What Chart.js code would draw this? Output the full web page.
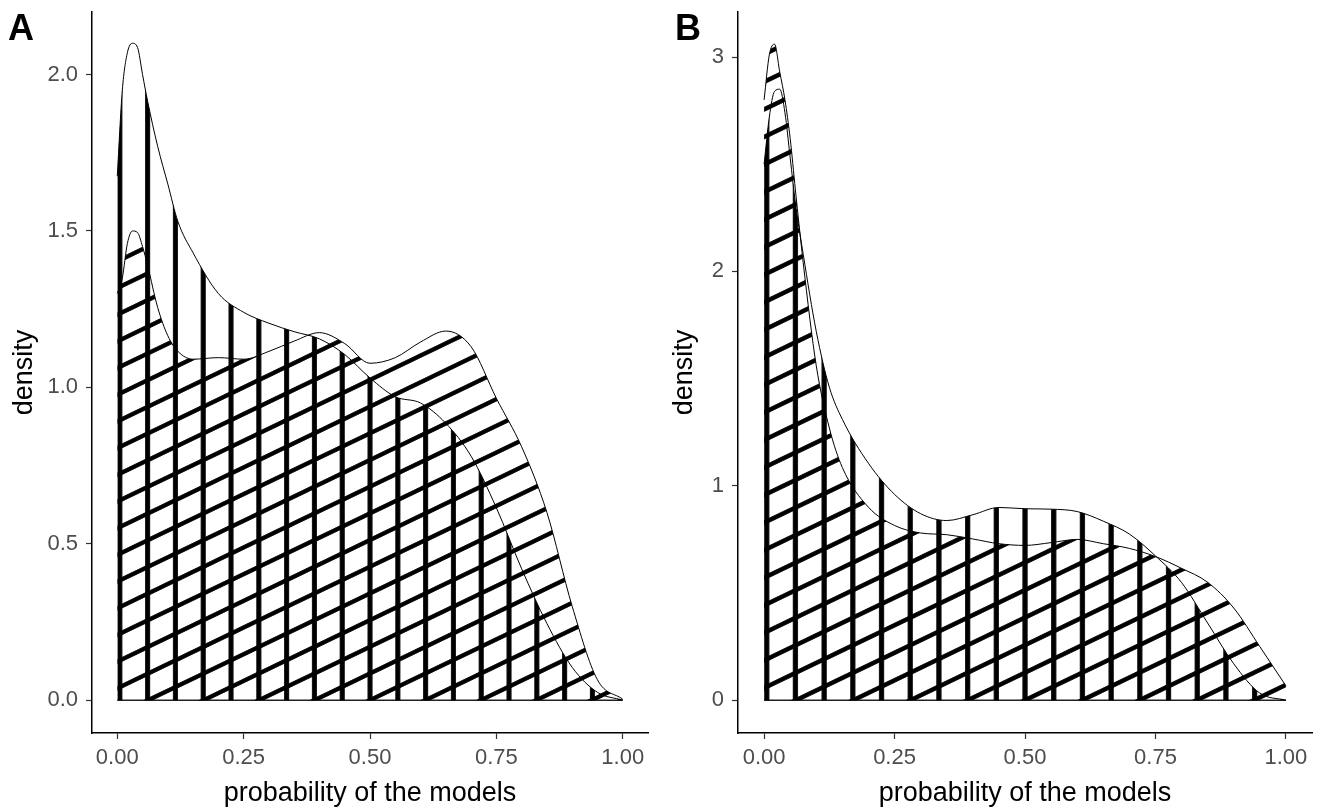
<!DOCTYPE html>
<html>
<head>
<meta charset="utf-8">
<script src="https://cdn.jsdelivr.net/npm/chart.js@4.4.1/dist/chart.umd.min.js"></script>
<style>
  html, body { margin: 0; padding: 0; background: #fff; }
  body { width: 1321px; height: 807px; position: relative; overflow: hidden; font-family: "Liberation Sans", Arial, sans-serif; }
  .panel { position: absolute; top: 0; height: 807px; }
  .tag { position: absolute; top: 10px; font-weight: bold; font-size: 36px; line-height: 36px; color: #000; }
</style>
</head>
<body>
<div class="panel" style="left:0;width:660px"><canvas id="chartA" width="660" height="807"></canvas></div>
<div class="panel" style="left:660px;width:661px"><canvas id="chartB" width="661" height="807"></canvas></div>
<div class="tag" style="left:8px">A</div>
<div class="tag" style="left:675px">B</div>
<script>
// panel A : density of the two models
const xGridA = [0, 0.01, 0.02, 0.03, 0.04, 0.05, 0.06, 0.08, 0.10, 0.12, 0.15, 0.20, 0.25, 0.30, 0.35, 0.40,
  0.45, 0.50, 0.55, 0.60, 0.65, 0.70, 0.75, 0.80, 0.85, 0.90, 0.95, 1.00];
const densA1 = [1.675, 1.95, 2.07, 2.10, 2.087, 2.00, 1.915, 1.77, 1.65, 1.53, 1.43, 1.30, 1.24, 1.205, 1.178, 1.155,
  1.105, 1.03, 0.97, 0.95, 0.885, 0.78, 0.615, 0.42, 0.245, 0.105, 0.025, 0.0];
const densA2 = [1.30, 1.35, 1.46, 1.50, 1.495, 1.45, 1.39, 1.255, 1.165, 1.115, 1.09, 1.095, 1.09, 1.115, 1.148, 1.175,
  1.14, 1.077, 1.095, 1.145, 1.18, 1.13, 0.965, 0.81, 0.60, 0.30, 0.065, 0.003];

// panel B
const xGridB = [0, 0.01, 0.02, 0.03, 0.04, 0.05, 0.06, 0.075, 0.10, 0.125, 0.15, 0.20, 0.25, 0.30, 0.35, 0.40,
  0.45, 0.50, 0.55, 0.60, 0.65, 0.70, 0.75, 0.80, 0.85, 0.90, 0.95, 1.00];
const densB1 = [2.50, 2.72, 2.84, 2.85, 2.74, 2.53, 2.32, 2.08, 1.72, 1.46, 1.31, 1.105, 0.96, 0.87, 0.838, 0.865,
  0.899, 0.893, 0.891, 0.88, 0.835, 0.775, 0.673, 0.549, 0.36, 0.17, 0.033, 0.0];
const densB2 = [2.80, 3.01, 3.06, 2.93, 2.80, 2.62, 2.38, 2.04, 1.56, 1.27, 1.085, 0.90, 0.815, 0.78, 0.772, 0.752,
  0.73, 0.722, 0.735, 0.75, 0.73, 0.708, 0.67, 0.615, 0.55, 0.43, 0.25, 0.067];

const xTicks = [0, 0.25, 0.5, 0.75, 1];
const yTicksA = [0, 0.5, 1, 1.5, 2];
const yTicksB = [0, 1, 2, 3];
const baseSpan = [0, 1];

const FONT = '"Liberation Sans", Arial, sans-serif';
const TILE = 32;

function stripeTile(vertical) {
  const c = document.createElement('canvas');
  c.width = TILE; c.height = TILE;
  const g = c.getContext('2d');
  g.fillStyle = '#000';
  const t = 0.18 * TILE;
  if (vertical) g.fillRect((TILE - t) / 2, 0, t, TILE);
  else g.fillRect(0, (TILE - t) / 2, TILE, t);
  return c;
}

function makePanel(id, xs, d1, d2, yTicks, yMin, yMax, yDigits, yWidth, padRight) {
  const ctx = document.getElementById(id).getContext('2d');
  const vPat = ctx.createPattern(stripeTile(true), 'repeat');
  const dPat = ctx.createPattern(stripeTile(false), 'repeat');

  // place the stripes from the scales once the layout is known
  const patternPlacer = {
    id: 'patternPlacer',
    beforeDatasetsDraw(chart) {
      const area = chart.chartArea;
      const xs_ = chart.scales.x, ys_ = chart.scales.y;
      const p = 0.05 * (area.right - area.left);
      const cx = xs_.getPixelForValue(0.5);
      vPat.setTransform(new DOMMatrix().translate(cx - p / 2, 0).scale(p / TILE));
      const v = 0.96 * p;
      const cy = ys_.getPixelForValue(0);
      dPat.setTransform(new DOMMatrix().translate(cx, cy).skewY(-25.7).scale(1, v / TILE).translate(0, -TILE / 2));
    }
  };

  const pts = arr => xs.map((x, i) => ({x: x, y: arr[i]}));

  return new Chart(ctx, {
    type: 'line',
    data: {
      datasets: [
        {data: pts(d1), borderColor: '#000', borderWidth: 1, backgroundColor: vPat, fill: 'origin',
          pointRadius: 0, cubicInterpolationMode: 'monotone'},
        {data: pts(d2), borderColor: '#000', borderWidth: 1, backgroundColor: dPat, fill: 'origin',
          pointRadius: 0, cubicInterpolationMode: 'monotone'},
        {data: baseSpan.map(x => ({x: x, y: 0})), borderColor: '#222', borderWidth: 1.5, fill: false, pointRadius: 0}
      ]
    },
    options: {
      responsive: false,
      animation: false,
      devicePixelRatio: 1,
      layout: {padding: {left: 0, top: 12, right: padRight, bottom: 0}},
      plugins: {legend: {display: false}, tooltip: {enabled: false}},
      scales: {
        x: {
          type: 'linear', min: -0.05, max: 1.05,
          afterBuildTicks: s => { s.ticks = xTicks.map(v => ({value: v})); },
          afterFit: s => { s.height = 74; },
          ticks: {color: '#4d4d4d', font: {family: FONT, size: 22}, padding: 6, maxRotation: 0,
            callback: v => Number(v).toFixed(2)},
          grid: {display: true, drawOnChartArea: false, tickLength: 6, tickColor: '#333', tickWidth: 1.2},
          border: {display: true, color: '#000', width: 1.5},
          title: {display: true, text: 'probability of the models', color: '#000',
            font: {family: FONT, size: 27, lineHeight: 1}, padding: {top: 0, bottom: 0}}
        },
        y: {
          type: 'linear', min: yMin, max: yMax,
          afterBuildTicks: s => { s.ticks = yTicks.map(v => ({value: v})); },
          afterFit: s => { s.width = yWidth; s.paddingTop = 0; s.paddingBottom = 0; },
          ticks: {color: '#4d4d4d', font: {family: FONT, size: 22}, padding: 8,
            callback: v => Number(v).toFixed(yDigits)},
          grid: {display: true, drawOnChartArea: false, tickLength: 6, tickColor: '#333', tickWidth: 1.2},
          border: {display: true, color: '#000', width: 1.5},
          title: {display: true, text: 'density', color: '#000',
            font: {family: FONT, size: 27}, padding: {top: 8, bottom: 0}}
        }
      }
    },
    plugins: [patternPlacer]
  });
}

makePanel('chartA', xGridA, densA1, densA2, yTicksA, -0.105, 2.2, 1, 92, 12);
makePanel('chartB', xGridB, densB1, densB2, yTicksB, -0.153, 3.21, 0, 78, 9);
</script>
</body>
</html>
